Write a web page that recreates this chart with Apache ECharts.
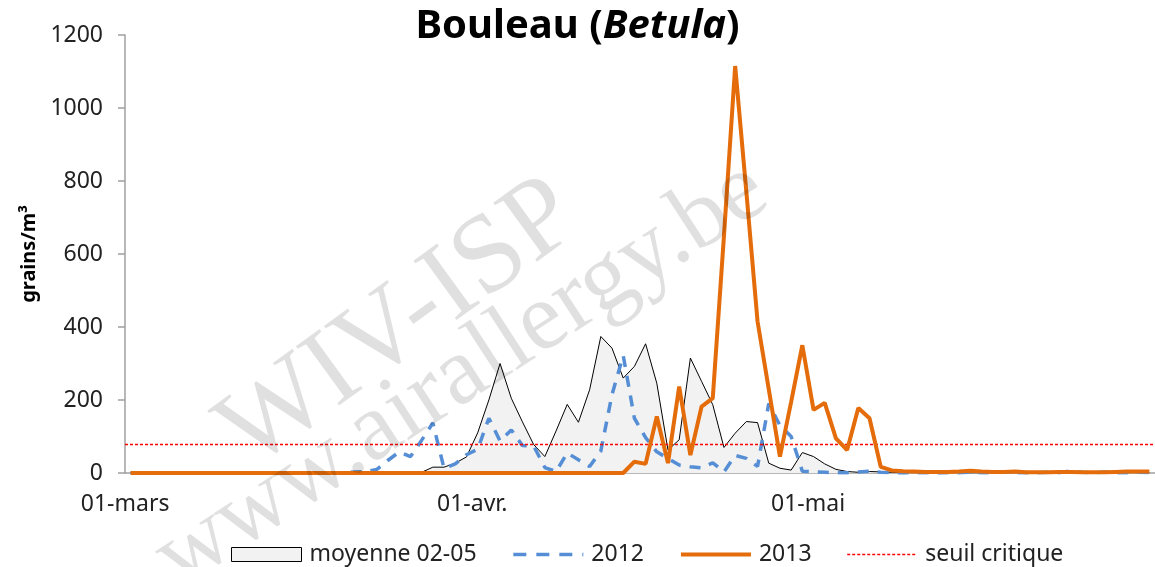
<!DOCTYPE html>
<html>
<head>
<meta charset="utf-8">
<script src="https://cdn.jsdelivr.net/npm/echarts@6/dist/echarts.min.js"></script>
<style>
html,body{margin:0;padding:0;background:#fff;}
#chart{width:1155px;height:567px;}
</style>
</head>
<body>
<div id="chart"></div>
<script>
// Months shown (1 March – 31 May), French day labels
const months = [
  { name: 'mars', days: 31 },
  { name: 'avr.', days: 30 },
  { name: 'mai', days: 31 }
];
const categories = [];
months.forEach(m => {
  for (let d = 1; d <= m.days; d++) {
    categories.push((d < 10 ? '0' : '') + d + '-' + m.name);
  }
});
const shownLabels = ['01-mars', '01-avr.', '01-mai'];

// moyenne 02-05 (grains/m³), one value per day from 1 March
const moyenne = [
  0,0,0,0,0,0,0,0,0,0, 0,0,0,0,0,0,0,0,0,0,
  0,0,0,0,0,0,2,16,16,27, 44,110,200,300,205,140,78,45,115,188,
  139,228,374,342,260,292,354,246,63,91, 315,251,187,70,109,141,138,27,13,8,
  56,45,25,10,4,2,4,3,2,1, 1,1,0,1,1,0,1,1,0,1,
  1,0,1,1,0,1,1,0,0,1, 1,0
];
// 2012
const y2012 = [
  0,0,0,0,0,0,0,0,0,0, 0,0,0,0,0,0,0,0,0,0,
  3,4,10,35,58,45,90,137,12,25, 50,65,150,88,118,75,74,15,4,55,
  36,18,60,215,322,150,97,58,40,22, 17,14,28,3,48,40,18,190,130,100,
  5,3,2,1,1,3,5,2,1,0, 1,1,0,1,1,2,1,1,3,1, 1,1,2,1,6,2,1,3,1,1, 2,1
];
// 2013
const y2013 = [
  0,0,0,0,0,0,0,0,0,0, 0,0,0,0,0,0,0,0,0,0,
  0,0,0,0,0,0,0,0,0,0, 0,0,0,0,0,0,0,0,0,0,
  0,0,0,0,0,31,25,155,27,237, 49,182,205,650,1115,770,415,230,45,195,
  350,173,192,95,63,178,150,17,7,5, 4,3,3,3,4,6,4,3,3,4, 2,2,2,3,3,2,2,2,3,4, 4,4
];
const seuil = 80;
const yTicks = { min: 0, max: 1200, interval: 200 };

const chart = echarts.init(document.getElementById('chart'), null, { renderer: 'canvas' });
const FONT = '"Noto Sans", "DejaVu Sans", sans-serif';
const showIdx = (i) => shownLabels.indexOf(categories[i]) >= 0;
const hideSymbol = { opacity: 0 };

chart.setOption({
  animation: false,
  backgroundColor: '#ffffff',
  title: {
    left: 'center',
    top: 2,
    text: '{b|Bouleau (}{i|Betula}{b|)}',
    textStyle: {
      rich: {
        b: { fontFamily: FONT, fontSize: 40, fontWeight: 'bold', color: '#000' },
        i: { fontFamily: FONT, fontSize: 40, fontWeight: 'bold', fontStyle: 'italic', color: '#000' }
      }
    }
  },
  grid: { left: 125, right: 0, top: 35, bottom: 94, containLabel: false },
  legend: {
    left: 226,
    top: 538,
    itemGap: 35,
    itemWidth: 70,
    itemHeight: 14,
    textStyle: { fontFamily: FONT, fontSize: 23, color: '#222', padding: [0, 0, 0, 3] },
    data: [
      { name: 'moyenne 02-05', icon: 'rect', itemStyle: { color: '#f2f2f2', borderColor: '#000', borderWidth: 1 } },
      { name: '2012', itemStyle: hideSymbol, lineStyle: { color: '#558ed5', width: 3.5, type: [13, 10] } },
      { name: '2013', itemStyle: hideSymbol, lineStyle: { color: '#e46c0a', width: 4 } },
      { name: 'seuil critique', itemStyle: hideSymbol, lineStyle: { color: '#ff0000', width: 1.3, type: [3, 2] } }
    ]
  },
  xAxis: {
    type: 'category',
    data: categories,
    boundaryGap: true,
    axisLine: { lineStyle: { color: '#a0a0a0', width: 1.5 } },
    axisTick: { interval: showIdx, length: 7, lineStyle: { color: '#a0a0a0', width: 1.5 } },
    axisLabel: {
      interval: showIdx,
      fontFamily: FONT, fontSize: 23, color: '#222', margin: 20,
      padding: [0, 11, 0, 0]
    },
    splitLine: { show: false }
  },
  yAxis: {
    type: 'value',
    min: yTicks.min, max: yTicks.max, interval: yTicks.interval,
    name: 'grains/m³',
    nameLocation: 'middle',
    nameGap: 80,
    nameTextStyle: { fontFamily: FONT, fontSize: 20, fontWeight: 'bold', color: '#000' },
    axisLine: { show: true, lineStyle: { color: '#a0a0a0', width: 1.5 } },
    axisTick: { show: true, length: 7, lineStyle: { color: '#a0a0a0', width: 1.5 } },
    axisLabel: { fontFamily: FONT, fontSize: 23, color: '#222', margin: 22, formatter: (v) => String(v) },
    splitLine: { show: false }
  },
  series: [
    {
      name: 'moyenne 02-05', type: 'line', data: moyenne, symbol: 'none', z: 2,
      itemStyle: { color: '#000' },
      lineStyle: { color: '#000', width: 1 },
      areaStyle: { color: '#f2f2f2', opacity: 1 }
    },
    {
      name: 'seuil critique', type: 'line', data: [], symbol: 'none', z: 3,
      itemStyle: { color: '#ff0000' },
      lineStyle: { color: '#ff0000', width: 1.3, type: [3, 2] },
      markLine: {
        silent: true, symbol: 'none', label: { show: false },
        lineStyle: { color: '#ff0000', width: 1.3, type: [3, 2] },
        data: [{ yAxis: seuil }]
      }
    },
    {
      name: '2012', type: 'line', data: y2012, symbol: 'none', z: 4,
      itemStyle: { color: '#558ed5' },
      lineStyle: { color: '#558ed5', width: 3.5, type: [11, 9] }
    },
    {
      name: '2013', type: 'line', data: y2013, symbol: 'none', z: 5,
      itemStyle: { color: '#e46c0a' },
      lineStyle: { color: '#e46c0a', width: 4 }
    }
  ],
  graphic: [
    {
      type: 'text', x: 400, y: 325, rotation: 36 * Math.PI / 180, z: 100, silent: true,
      style: { text: 'WIV-ISP', font: '112px "Liberation Serif", "DejaVu Serif", serif', fill: 'rgba(0,0,0,0.12)', align: 'center', verticalAlign: 'middle' }
    },
    {
      type: 'text', x: 462, y: 375, rotation: 33 * Math.PI / 180, z: 100, silent: true,
      style: { text: 'www.airallergy.be', font: '97px "Liberation Serif", "DejaVu Serif", serif', fill: 'rgba(0,0,0,0.12)', align: 'center', verticalAlign: 'middle' }
    }
  ]
});
</script>
</body>
</html>
